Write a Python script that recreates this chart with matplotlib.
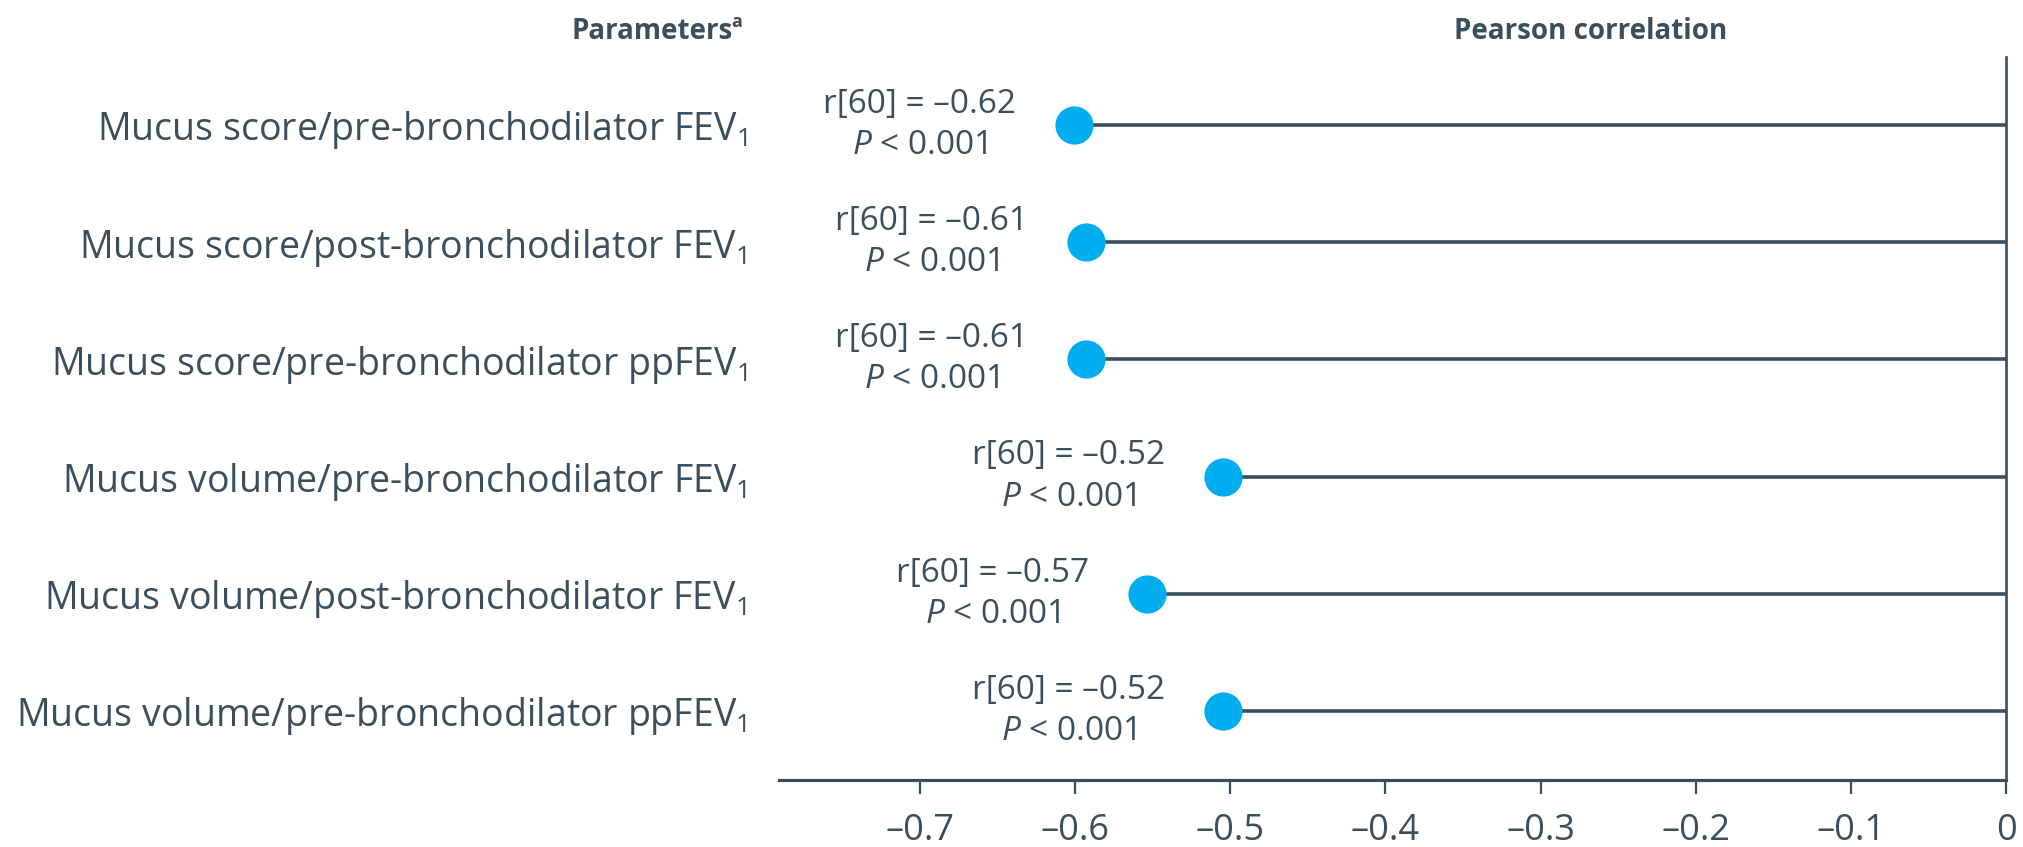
import matplotlib
matplotlib.use('Agg')
import matplotlib.pyplot as plt
from matplotlib.ticker import FuncFormatter

# data
params = ['Mucus score/pre-bronchodilator FEV$_1$',
          'Mucus score/post-bronchodilator FEV$_1$',
          'Mucus score/pre-bronchodilator ppFEV$_1$',
          'Mucus volume/pre-bronchodilator FEV$_1$',
          'Mucus volume/post-bronchodilator FEV$_1$',
          'Mucus volume/pre-bronchodilator ppFEV$_1$']
r_plot = [-0.601, -0.593, -0.593, -0.505, -0.554, -0.505]
r_text = ['\u20130.62', '\u20130.61', '\u20130.61', '\u20130.52', '\u20130.57', '\u20130.52']
p_text = ['0.001'] * 6
xticks = [-0.7, -0.6, -0.5, -0.4, -0.3, -0.2, -0.1, 0]

dark = '#3a4e5e'
blue = '#00aeef'

plt.rcParams['font.family'] = ['Open Sans', 'DejaVu Sans']
plt.rcParams['mathtext.fontset'] = 'custom'
plt.rcParams['mathtext.rm'] = 'Open Sans'
plt.rcParams['mathtext.it'] = 'Open Sans:italic'
plt.rcParams['mathtext.bf'] = 'Open Sans:bold'
plt.rcParams['mathtext.default'] = 'regular'

fig = plt.figure(figsize=(20.23, 8.47), dpi=100)
ax = fig.add_axes([0.385, 0.0791, 0.6066, 0.8536])

ypos = list(range(len(params)))
for y, v in zip(ypos, r_plot):
    ax.plot([v, 0], [y, y], color=dark, lw=2.6, zorder=2, solid_capstyle='butt')
ax.plot(r_plot, ypos, 'o', ms=27.5, color=blue, mec='none', zorder=3)

for y, v, rt, pt in zip(ypos, r_plot, r_text, p_text):
    ax.annotate('r[60] = ' + rt + '\n$\\it{P}$ < ' + pt, xy=(v, y),
                xytext=(-111, 0), textcoords='offset points',
                ha='center', va='center', fontsize=24, color=dark,
                linespacing=1.33)

ax.set_xlim(-0.791, 0)
ax.set_ylim(5.59, -0.58)
ax.set_yticks(ypos)
ax.set_yticklabels(params, fontsize=27, color=dark)
ax.tick_params(axis='y', length=0, pad=23)

ax.set_xticks(xticks)
ax.xaxis.set_major_formatter(FuncFormatter(
    lambda x, pos: '0' if abs(x) < 1e-9 else ('%.1f' % x).replace('-', '\u2013')))
ax.tick_params(axis='x', length=10, width=1.6, color=dark, labelsize=26,
               labelcolor=dark, pad=14)

for s in ['left', 'top']:
    ax.spines[s].set_visible(False)
ax.spines['bottom'].set_color(dark)
ax.spines['bottom'].set_linewidth(2.3)
ax.spines['right'].set_color(dark)
ax.spines['right'].set_linewidth(1.9)

# column headers
fig.text(733 / 2023, 1 - 39 / 847, 'Parameters', ha='right',
         va='baseline', fontsize=20, fontweight='bold', color=dark)
fig.text(731 / 2023, 1 - 27 / 847, 'a', ha='left',
         va='baseline', fontsize=13, fontweight='bold', color=dark)
fig.text(1591 / 2023, 1 - 39 / 847, 'Pearson correlation', ha='center',
         va='baseline', fontsize=20, fontweight='bold', color=dark)

fig.savefig('out.png', dpi=100)
